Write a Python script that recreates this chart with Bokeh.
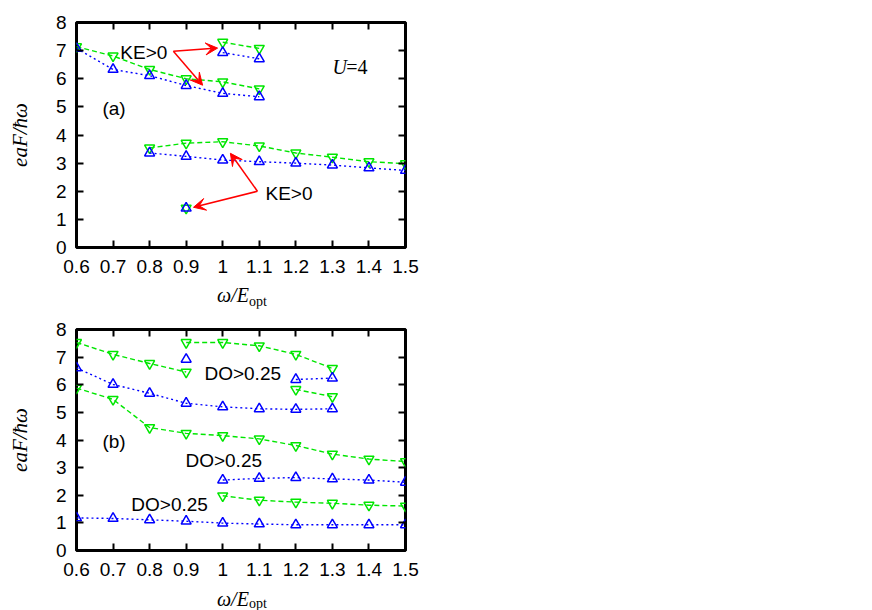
from bokeh.plotting import figure
from bokeh.models import Range1d, FixedTicker, LinearAxis, Label, Arrow, VeeHead, Div
from bokeh.layouts import column
from bokeh.embed import file_html
from bokeh.resources import INLINE

# ---------------- data ----------------
x_ticks = [0.6, 0.7, 0.8, 0.9, 1.0, 1.1, 1.2, 1.3, 1.4, 1.5]
x_tick_labels = ["0.6", "0.7", "0.8", "0.9", "1", "1.1", "1.2", "1.3", "1.4", "1.5"]
y_ticks = [0, 1, 2, 3, 4, 5, 6, 7, 8]
y_tick_labels = ["0", "1", "2", "3", "4", "5", "6", "7", "8"]

# panel (a)
a_x_main = [0.6, 0.7, 0.8, 0.9, 1.0, 1.1]
a_blue_main = [7.08, 6.33, 6.11, 5.76, 5.48, 5.36]
a_green_main = [7.14, 6.81, 6.33, 6.00, 5.89, 5.64]
a_x_upper = [1.0, 1.1]
a_blue_upper = [6.93, 6.71]
a_green_upper = [7.30, 7.08]
a_x_low = [0.8, 0.9, 1.0, 1.1, 1.2, 1.3, 1.4, 1.5]
a_blue_low = [3.36, 3.24, 3.11, 3.05, 3.00, 2.93, 2.83, 2.74]
a_green_low = [3.54, 3.71, 3.76, 3.61, 3.36, 3.21, 3.05, 2.98]
a_x_single = [0.9]
a_blue_single = [1.40]
a_green_single = [1.40]

# panel (b)
b_blue_x1 = [0.6, 0.7, 0.8, 0.9, 1.0, 1.1, 1.2, 1.3]
b_blue_y1 = [6.61, 6.01, 5.69, 5.33, 5.20, 5.13, 5.11, 5.13]
b_blue_x2 = [0.9]
b_blue_y2 = [6.92]
b_blue_x3 = [1.2, 1.3]
b_blue_y3 = [6.19, 6.24]
b_blue_x4 = [1.0, 1.1, 1.2, 1.3, 1.4, 1.5]
b_blue_y4 = [2.55, 2.61, 2.64, 2.59, 2.55, 2.47]
b_blue_x5 = [0.6, 0.7, 0.8, 0.9, 1.0, 1.1, 1.2, 1.3, 1.4, 1.5]
b_blue_y5 = [1.18, 1.16, 1.11, 1.06, 0.99, 0.96, 0.93, 0.93, 0.93, 0.93]

b_green_x1 = [0.6, 0.7, 0.8, 0.9]
b_green_y1 = [7.53, 7.10, 6.77, 6.46]
b_green_x2 = [0.9, 1.0, 1.1, 1.2, 1.3]
b_green_y2 = [7.53, 7.53, 7.41, 7.10, 6.59]
b_green_x3 = [1.2, 1.3]
b_green_y3 = [5.83, 5.57]
b_green_x4 = [0.6, 0.7, 0.8, 0.9, 1.0, 1.1, 1.2, 1.3, 1.4, 1.5]
b_green_y4 = [5.88, 5.47, 4.45, 4.24, 4.16, 4.04, 3.80, 3.49, 3.31, 3.22]
b_green_x5 = [1.0, 1.1, 1.2, 1.3, 1.4, 1.5]
b_green_y5 = [1.98, 1.82, 1.75, 1.71, 1.64, 1.61]

# annotation arrows of panel (a): (x_start, y_start, x_end, y_end)
a_arrows = [
    (0.865, 6.98, 0.986, 7.09),
    (0.865, 6.98, 0.945, 5.77),
    (1.095, 2.00, 1.021, 3.35),
    (1.095, 2.00, 0.920, 1.43),
]

BLUE = "#0000ff"
GREEN = "#00e600"
RED = "#ff0000"
SANS = "Liberation Sans"
SERIF = "Liberation Serif"


def make_panel(height, top, bottom):
    p = figure(width=420, height=height, output_backend="svg", toolbar_location=None,
               x_range=Range1d(0.6, 1.5), y_range=Range1d(0, 8),
               min_border_left=76, min_border_right=15,
               min_border_top=top, min_border_bottom=bottom)
    p.grid.visible = False
    p.outline_line_color = "black"
    p.outline_line_width = 3
    p.background_fill_color = "white"
    p.border_fill_color = "white"

    xa = p.below[0]
    ya = p.left[0]
    xa.ticker = FixedTicker(ticks=x_ticks)
    xa.major_label_overrides = dict(zip(x_ticks, x_tick_labels))
    ya.ticker = FixedTicker(ticks=y_ticks)
    ya.major_label_overrides = dict(zip(y_ticks, y_tick_labels))
    for ax in (xa, ya):
        ax.axis_line_color = None
        ax.major_tick_in = 7
        ax.major_tick_out = 0
        ax.major_tick_line_width = 2
        ax.minor_tick_line_color = None
        ax.major_label_text_font = SANS
        ax.major_label_text_font_size = "19px"
        ax.major_label_text_color = "black"
    xa.major_label_standoff = 12
    ya.major_label_standoff = 10
    ya.axis_label = "eaF/\u0127\u03c9"
    ya.axis_label_text_font = SERIF
    ya.axis_label_text_font_style = "italic"
    ya.axis_label_text_font_size = "21px"
    ya.axis_label_text_color = "black"
    ya.axis_label_standoff = 21

    top_ax = LinearAxis(ticker=FixedTicker(ticks=x_ticks),
                        major_label_overrides={t: "" for t in x_ticks})
    right_ax = LinearAxis(ticker=FixedTicker(ticks=y_ticks),
                          major_label_overrides={t: "" for t in y_ticks})
    for ax in (top_ax, right_ax):
        ax.axis_line_color = None
        ax.major_tick_in = 7
        ax.major_tick_out = 0
        ax.major_tick_line_width = 2
        ax.minor_tick_line_color = None
        ax.major_label_standoff = 0
        ax.major_label_text_font_size = "1px"
    p.add_layout(top_ax, "above")
    p.add_layout(right_ax, "right")
    return p


def series(p, xs, ys, color, marker, dash):
    if len(xs) > 1:
        p.line(xs, ys, line_color=color, line_dash=dash, line_width=1.4)
    p.scatter(xs, ys, marker=marker, size=10, fill_color=None,
              line_color=color, line_width=1.5)


def xlabel_div(height, pad_top, line_h, sub_top):
    html = ('<div style="padding-left:217px;padding-top:%dpx;white-space:nowrap;'
            'font-family:\'Liberation Serif\';font-size:20px;line-height:%dpx;color:black">'
            '<i>\u03c9/E</i><span style="font-size:14px;position:relative;top:%dpx">opt</span>'
            '</div>' % (pad_top, line_h, sub_top))
    return Div(text=html, width=420, height=height, margin=(0, 0, 0, 0))


def txt(p, x, y, s, size="19px", font=SANS, style="normal"):
    p.add_layout(Label(x=x, y=y, text=s, text_font=font, text_font_size=size,
                       text_font_style=style, text_align="left",
                       text_baseline="middle", text_color="black"))


# ---------------- panel (a) ----------------
pa = make_panel(283, 22, 36)
for xs, yb, yg in [(a_x_main, a_blue_main, a_green_main),
                   (a_x_upper, a_blue_upper, a_green_upper),
                   (a_x_low, a_blue_low, a_green_low),
                   (a_x_single, a_blue_single, a_green_single)]:
    series(pa, xs, yg, GREEN, "inverted_triangle", "5 3")
    series(pa, xs, yb, BLUE, "triangle", "2 3")

for (x0, y0, x1, y1) in a_arrows:
    pa.add_layout(Arrow(x_start=x0, y_start=y0, x_end=x1, y_end=y1,
                        line_color=RED, line_width=1.5,
                        end=VeeHead(size=12, fill_color=RED, line_color=RED)))
txt(pa, 0.720, 6.95, "KE>0")
txt(pa, 1.117, 1.92, "KE>0")
txt(pa, 0.671, 4.95, "(a)")
txt(pa, 1.300, 6.42, "U", size="20px", font=SERIF, style="italic")
txt(pa, 1.338, 6.42, "=4", size="20px", font=SERIF)

# ---------------- panel (b) ----------------
pb = make_panel(283, 21, 41)
for xs, ys in [(b_green_x1, b_green_y1), (b_green_x2, b_green_y2),
               (b_green_x3, b_green_y3), (b_green_x4, b_green_y4),
               (b_green_x5, b_green_y5)]:
    series(pb, xs, ys, GREEN, "inverted_triangle", "5 3")
for xs, ys in [(b_blue_x1, b_blue_y1), (b_blue_x2, b_blue_y2),
               (b_blue_x3, b_blue_y3), (b_blue_x4, b_blue_y4),
               (b_blue_x5, b_blue_y5)]:
    series(pb, xs, ys, BLUE, "triangle", "2 3")

txt(pb, 0.950, 6.42, "DO>0.25")
txt(pb, 0.898, 3.25, "DO>0.25")
txt(pb, 0.750, 1.68, "DO>0.25")
txt(pb, 0.671, 3.94, "(b)")

layout = column(pa, xlabel_div(25, 2, 20, 4), pb, xlabel_div(19, 0, 16, 2), spacing=0)
open("out.html", "w").write(file_html(layout, INLINE))
